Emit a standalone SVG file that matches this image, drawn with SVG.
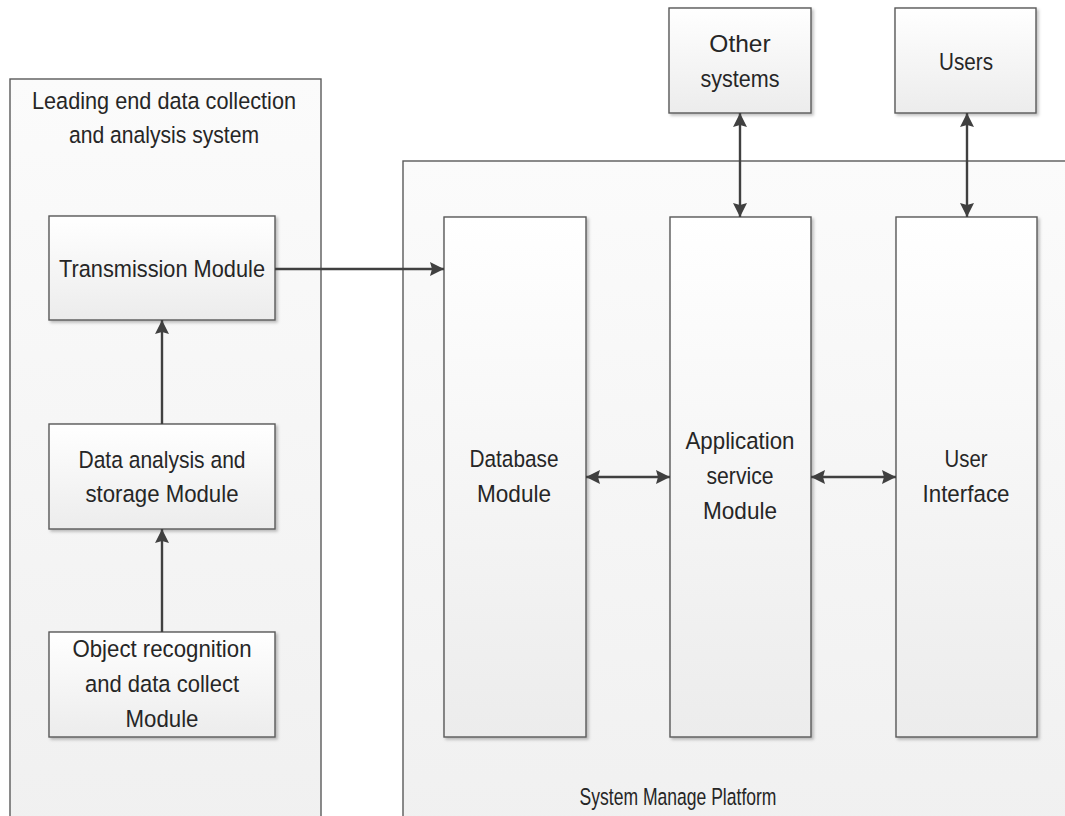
<svg xmlns="http://www.w3.org/2000/svg" width="1065" height="816" viewBox="0 0 1065 816">
<style>
.cont{stroke:#5a5a5a;stroke-width:1.4;fill:url(#gc)}
.box{stroke:#595959;stroke-width:1.4;fill:url(#gb);filter:url(#sh)}
.t{font-family:"Liberation Sans",Arial,sans-serif;font-size:24.5px;fill:#262626;text-anchor:middle}
.c{stroke:#404040;stroke-width:2.4;fill:none}
</style>
<defs>
<linearGradient id="gb" x1="0" y1="0" x2="0" y2="1">
<stop offset="0" stop-color="#ffffff"/>
<stop offset="1" stop-color="#ececec"/>
</linearGradient>
<linearGradient id="gc" x1="0" y1="0" x2="0" y2="1">
<stop offset="0" stop-color="#fbfbfb"/>
<stop offset="1" stop-color="#f0f0f0"/>
</linearGradient>
<filter id="sh" x="-10%" y="-10%" width="130%" height="130%">
<feDropShadow dx="2" dy="2" stdDeviation="1.5" flood-color="#000" flood-opacity="0.25"/>
</filter>
<marker id="ah" viewBox="0 0 14 14" refX="14" refY="7" markerWidth="14" markerHeight="14" markerUnits="userSpaceOnUse" orient="auto-start-reverse">
<path d="M0,0 L14,7 L0,14 L2,7 Z" fill="#404040"/>
</marker>
</defs>
<rect width="1065" height="816" fill="#ffffff"/>

<g id="leading-system">
<rect class="cont" x="10" y="79" width="311" height="760"/>
<text class="t" x="164" y="109" textLength="264" lengthAdjust="spacingAndGlyphs">Leading end data collection</text>
<text class="t" x="164" y="143" textLength="190" lengthAdjust="spacingAndGlyphs">and analysis system</text>
</g>

<g id="system-platform">
<rect class="cont" x="403" y="161" width="700" height="680"/>
<text class="t" x="678" y="805" textLength="197" lengthAdjust="spacingAndGlyphs">System Manage Platform</text>
</g>

<g id="transmission">
<rect class="box" x="49" y="216" width="226" height="104"/>
<text class="t" x="162" y="277" textLength="206" lengthAdjust="spacingAndGlyphs">Transmission Module</text>
</g>

<g id="data-analysis">
<rect class="box" x="49" y="424" width="226" height="105"/>
<text class="t" x="162" y="467.5" textLength="167" lengthAdjust="spacingAndGlyphs">Data analysis and</text>
<text class="t" x="162" y="502" textLength="153" lengthAdjust="spacingAndGlyphs">storage Module</text>
</g>

<g id="object-recognition">
<rect class="box" x="49" y="632" width="226" height="105"/>
<text class="t" x="162" y="656.5" textLength="179" lengthAdjust="spacingAndGlyphs">Object recognition</text>
<text class="t" x="162" y="691.5" textLength="154" lengthAdjust="spacingAndGlyphs">and data collect</text>
<text class="t" x="162" y="726.5" textLength="73" lengthAdjust="spacingAndGlyphs">Module</text>
</g>

<g id="database">
<rect class="box" x="444" y="217" width="142" height="520"/>
<text class="t" x="514" y="467" textLength="89" lengthAdjust="spacingAndGlyphs">Database</text>
<text class="t" x="514" y="501.5" textLength="74" lengthAdjust="spacingAndGlyphs">Module</text>
</g>

<g id="application">
<rect class="box" x="670" y="217" width="141" height="520"/>
<text class="t" x="740" y="449" textLength="109" lengthAdjust="spacingAndGlyphs">Application</text>
<text class="t" x="740" y="484" textLength="67" lengthAdjust="spacingAndGlyphs">service</text>
<text class="t" x="740" y="519" textLength="74" lengthAdjust="spacingAndGlyphs">Module</text>
</g>

<g id="user-interface">
<rect class="box" x="896" y="217" width="141" height="520"/>
<text class="t" x="966" y="467" textLength="43" lengthAdjust="spacingAndGlyphs">User</text>
<text class="t" x="966" y="501.5" textLength="87" lengthAdjust="spacingAndGlyphs">Interface</text>
</g>

<g id="other-systems">
<rect class="box" x="669" y="8" width="142" height="105"/>
<text class="t" x="740" y="52">Other</text>
<text class="t" x="740" y="86.5" textLength="79" lengthAdjust="spacingAndGlyphs">systems</text>
</g>

<g id="users">
<rect class="box" x="895" y="8" width="141" height="105"/>
<text class="t" x="966" y="70" textLength="54" lengthAdjust="spacingAndGlyphs">Users</text>
</g>

<g id="connectors">
<line class="c" x1="275" y1="269" x2="444" y2="269" marker-end="url(#ah)"/>
<line class="c" x1="162" y1="424" x2="162" y2="320" marker-end="url(#ah)"/>
<line class="c" x1="162" y1="632" x2="162" y2="529" marker-end="url(#ah)"/>
<line class="c" x1="586" y1="477" x2="670" y2="477" marker-start="url(#ah)" marker-end="url(#ah)"/>
<line class="c" x1="811" y1="477" x2="896" y2="477" marker-start="url(#ah)" marker-end="url(#ah)"/>
<line class="c" x1="740" y1="113" x2="740" y2="217" marker-start="url(#ah)" marker-end="url(#ah)"/>
<line class="c" x1="967" y1="113" x2="967" y2="217" marker-start="url(#ah)" marker-end="url(#ah)"/>
</g>
</svg>
